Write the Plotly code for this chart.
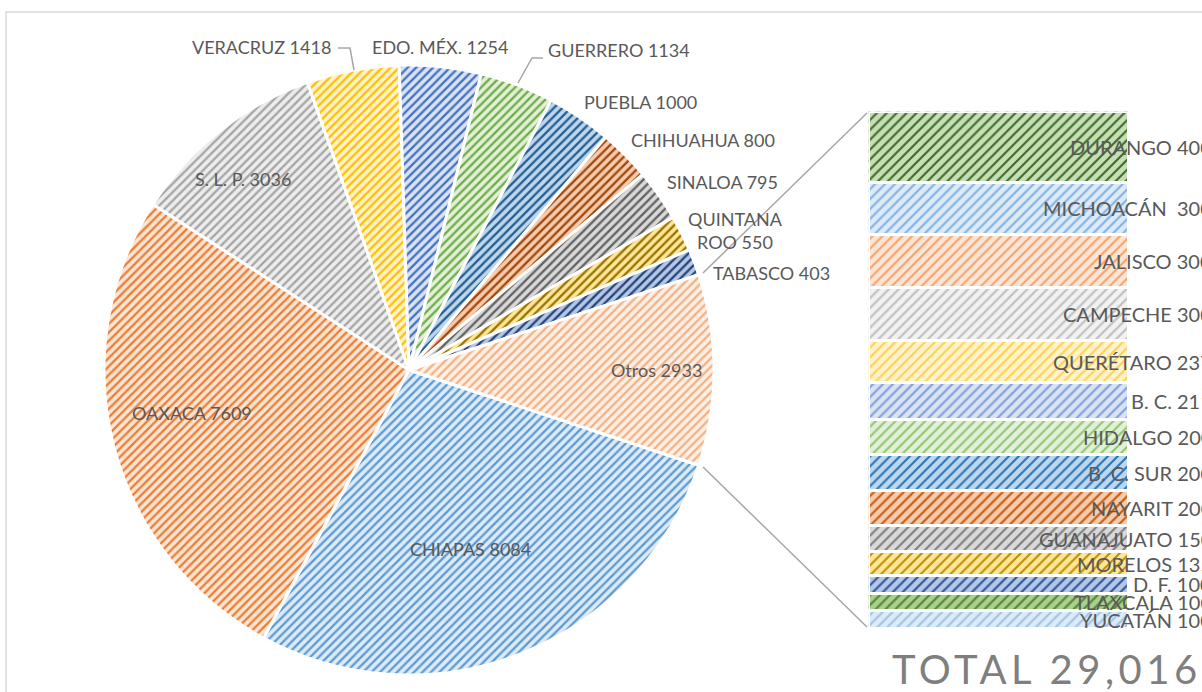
import plotly.graph_objects as go
import numpy as np

W, H = 1202, 692

# ---- data ----
pie_labels = ["CHIAPAS", "OAXACA", "S. L. P.", "VERACRUZ", "EDO. MÉX.", "GUERRERO",
              "PUEBLA", "CHIHUAHUA", "SINALOA", "QUINTANA ROO", "TABASCO", "Otros"]
pie_values = [8084, 7609, 3036, 1418, 1254, 1134, 1000, 800, 795, 550, 403, 2933]

bar_labels = ["DURANGO", "MICHOACÁN ", "JALISCO", "CAMPECHE", "QUERÉTARO", "B. C.",
              "HIDALGO", "B. C. SUR", "NAYARIT", "GUANAJUATO", "MORELOS", "D. F.",
              "TLAXCALA", "YUCATÁN"]
bar_values = [400, 300, 300, 300, 237, 211, 200, 200, 200, 150, 135, 100, 100, 100]

total_text = "TOTAL 29,016"

# ---- styles ----
pie_fg = ["#5B9BD5", "#ED7D31", "#A5A5A5", "#FFC000", "#4472C4", "#70AD47",
          "#255E91", "#9E480E", "#636363", "#997300", "#264478", "#F4B183"]
pie_bg = ["#DEEBF7", "#FBE5D6", "#EDEDED", "#FFF2CC", "#DAE3F3", "#E2F0D9",
          "#BDD7EE", "#F8CBAD", "#D9D9D9", "#FFE699", "#B4C7E7", "#FDF0E7"]
bar_fg = ["#43682B", "#7FB2E5", "#F4A46E", "#BFBFBF", "#FFD24D", "#7F9FDB",
          "#93C572", "#2E75B6", "#C55A11", "#7F7F7F", "#BF9000", "#2F5597",
          "#548235", "#9DC3E6"]
bar_bg = ["#C5E0B4", "#DEEBF7", "#FBE5D6", "#F2F2F2", "#FFF2CC", "#DAE3F3",
          "#E2F0D9", "#BDD7EE", "#F8CBAD", "#D9D9D9", "#FFE699", "#B4C7E7",
          "#A9D18E", "#DEEBF7"]

FONT = "Lato"
TXT = "#595959"

# pie geometry (pixels)
cx, cy, R = 409, 370, 305
# bar geometry (pixels)
bx0, bx1, by0, by1 = 870, 1127, 113, 627


def px(x, y):
    return x / W, 1 - y / H


fig = go.Figure()

otros_share = pie_values[-1] / sum(pie_values) * 360
rotation = 90 + otros_share / 2

fig.add_trace(go.Pie(
    labels=pie_labels, values=pie_values, sort=False, direction="clockwise",
    rotation=rotation, textinfo="none", hoverinfo="label+value",
    domain=dict(x=[(cx - R) / W, (cx + R) / W], y=[(H - cy - R) / H, (H - cy + R) / H]),
    marker=dict(colors=pie_bg, line=dict(color="white", width=3),
                pattern=dict(shape="/", fgcolor=pie_fg, bgcolor=pie_bg,
                             size=6, solidity=0.38, fillmode="replace")),
    showlegend=False,
))

# stacked bar (bottom to top)
for lab, val, fg, bg in list(zip(bar_labels, bar_values, bar_fg, bar_bg))[::-1]:
    fig.add_trace(go.Bar(
        x=[0], y=[val], name=lab, width=1, xaxis="x", yaxis="y",
        marker=dict(color=bg, line=dict(color="white", width=3),
                    pattern=dict(shape="/", fgcolor=fg, bgcolor=bg, size=7,
                                 solidity=0.3, fillmode="replace")),
        showlegend=False, hoverinfo="name+y",
    ))

annotations = []
# pie label positions (pixel centres)
pie_label_pos = {
    "CHIAPAS": (470, 549), "OAXACA": (192, 413), "S. L. P.": (243, 179),
    "VERACRUZ": (261, 47), "EDO. MÉX.": (440, 47), "GUERRERO": (619, 50),
    "PUEBLA": (640, 102), "CHIHUAHUA": (703, 140), "SINALOA": (722, 182),
    "QUINTANA ROO": (735, 230), "TABASCO": (771, 273), "Otros": (656, 370),
}
for lab, val in zip(pie_labels, pie_values):
    x, y = pie_label_pos[lab]
    t = f"{lab} {val}"
    if lab == "QUINTANA ROO":
        t = f"QUINTANA<br>ROO {val}"
    xx, yy = px(x, y)
    annotations.append(dict(x=xx, y=yy, xref="paper", yref="paper", text=t,
                            showarrow=False, font=dict(family=FONT, size=18, color=TXT),
                            xanchor="center", yanchor="middle"))

# bar labels
cum = np.cumsum(bar_values[::-1])[::-1]
for lab, val, top in zip(bar_labels, bar_values, cum):
    annotations.append(dict(x=1214 / W, y=top - val / 2, xref="paper", yref="y",
                            text=f"{lab} {val}", showarrow=False,
                            font=dict(family=FONT, size=20, color=TXT),
                            xanchor="right", yanchor="middle"))

annotations.append(dict(x=1047 / W, y=1 - 669 / H, xref="paper", yref="paper",
                        text=total_text, showarrow=False,
                        font=dict(family=FONT, size=40, color="#7F7F7F"),
                        xanchor="center", yanchor="middle"))

shapes = []
# chart border
x0, y0 = px(6, 12)
x1, y1 = px(1230, 720)
shapes.append(dict(type="rect", xref="paper", yref="paper", x0=x0, y0=y1, x1=x1, y1=y0,
                   line=dict(color="#D9D9D9", width=1.5), layer="below"))


def path(points):
    s = ""
    for i, (x, y) in enumerate(points):
        s += ("M" if i == 0 else "L") + f"{x},{y} "
    return s


# connectors pie -> bar
for pts in [[(703, 273), (867, 113)], [(703, 467), (867, 627)]]:
    shapes.append(dict(type="line", xref="paper", yref="paper",
                       x0=pts[0][0] / W, y0=1 - pts[0][1] / H,
                       x1=pts[1][0] / W, y1=1 - pts[1][1] / H,
                       line=dict(color="#A6A6A6", width=1.5)))
# leader lines
for pts in [[(338, 48), (350, 48), (354, 70)], [(543, 58), (532, 58), (518, 83)]]:
    shapes.append(dict(type="path", xref="paper", yref="paper",
                       path=path([(x / W, 1 - y / H) for x, y in pts]),
                       line=dict(color="#A6A6A6", width=1.5)))

fig.update_layout(
    width=W, height=H, margin=dict(l=0, r=0, t=0, b=0),
    paper_bgcolor="white", plot_bgcolor="rgba(0,0,0,0)",
    barmode="stack", bargap=0,
    xaxis=dict(domain=[(bx0 - 1.5) / W, (bx1 + 1.5) / W], range=[-0.5, 0.5],
               visible=False, fixedrange=True),
    yaxis=dict(domain=[(H - by1 - 1.5) / H, (H - by0 + 1.5) / H], range=[0, sum(bar_values)],
               visible=False, fixedrange=True),
    annotations=annotations, shapes=shapes,
)

post = """
document.body.style.margin='0';
document.body.style.overflow='hidden';
document.querySelectorAll('text').forEach(function(t){
  if (t.textContent.indexOf('TOTAL') === 0) { t.style.letterSpacing = '4.5px'; }
});
"""
fig.write_html("out.html", config={"displayModeBar": False}, post_script=post)
